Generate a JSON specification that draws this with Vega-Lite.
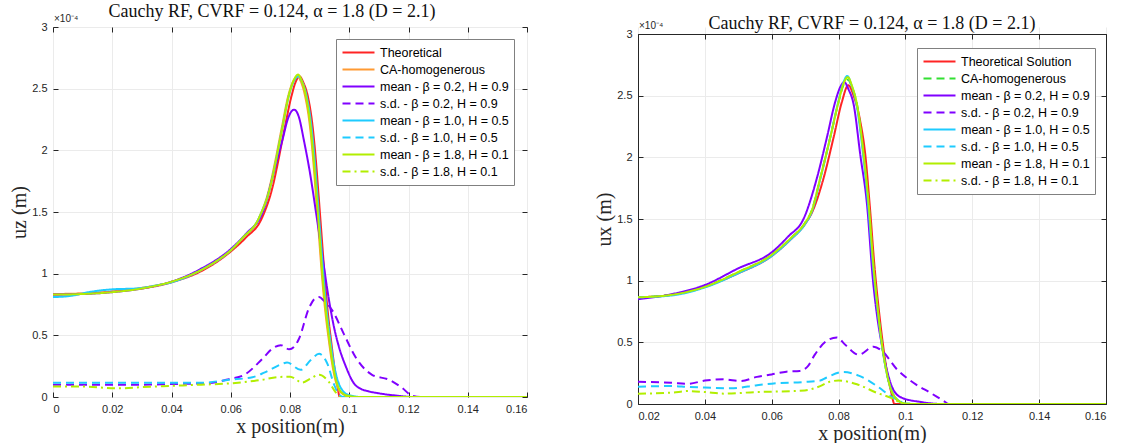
{
  "$schema": "https://vega.github.io/schema/vega-lite/v6.json",
  "background": "white",
  "padding": {"left": 9, "top": 2, "right": 5, "bottom": 0},
  "spacing": 66,
  "config": {
    "font": "Liberation Sans",
    "view": {"stroke": "#262626", "strokeWidth": 1},
    "axis": {"labelFont": "Liberation Sans", "labelFontSize": 11, "labelColor": "#262626", "titleFont": "Liberation Serif", "titleFontSize": 20, "titleFontWeight": "normal", "titleColor": "#262626", "gridColor": "#ebebeb", "gridWidth": 1, "domain": false, "domainColor": "#262626", "tickColor": "#262626", "tickSize": -5, "tickWidth": 1, "labelPadding": 11, "titlePadding": 2},
    "title": {"font": "Liberation Serif", "fontSize": 18, "fontWeight": "normal", "color": "#111111"},
    "legend": {"title": null, "fillColor": "white", "strokeColor": "#808080", "padding": 5, "symbolType": "stroke", "symbolSize": 1024, "symbolStrokeWidth": 2.2, "labelFont": "Liberation Sans", "labelFontSize": 12.5, "labelColor": "#000000", "clipHeight": 17, "rowPadding": 0, "labelOffset": 4, "labelLimit": 300}
  },
  "datasets": {
    "left": [
      {"s":"T","x":0,"y":0.83},{"s":"T","x":0.02,"y":0.855},{"s":"T","x":0.04,"y":0.93},{"s":"T","x":0.05,"y":1.02},{"s":"T","x":0.06,"y":1.18},{"s":"T","x":0.065,"y":1.29},{"s":"T","x":0.0705,"y":1.45},{"s":"T","x":0.0743,"y":1.72},{"s":"T","x":0.076,"y":1.91},{"s":"T","x":0.0782,"y":2.18},{"s":"T","x":0.0805,"y":2.44},{"s":"T","x":0.082,"y":2.56},{"s":"T","x":0.0832,"y":2.6},{"s":"T","x":0.0845,"y":2.55},{"s":"T","x":0.086,"y":2.44},{"s":"T","x":0.0877,"y":2.18},{"s":"T","x":0.0887,"y":1.93},{"s":"T","x":0.0897,"y":1.62},{"s":"T","x":0.0907,"y":1.3},{"s":"T","x":0.0917,"y":0.98},{"s":"T","x":0.0927,"y":0.7},{"s":"T","x":0.0939,"y":0.45},{"s":"T","x":0.095,"y":0.24},{"s":"T","x":0.096,"y":0.09},{"s":"T","x":0.0968,"y":0},{"s":"T","x":0.16,"y":0},
      {"s":"CA","x":0,"y":0.835},{"s":"CA","x":0.01,"y":0.84},{"s":"CA","x":0.02,"y":0.855},{"s":"CA","x":0.03,"y":0.885},{"s":"CA","x":0.04,"y":0.935},{"s":"CA","x":0.05,"y":1.03},{"s":"CA","x":0.055,"y":1.1},{"s":"CA","x":0.06,"y":1.19},{"s":"CA","x":0.064,"y":1.29},{"s":"CA","x":0.0695,"y":1.45},{"s":"CA","x":0.0733,"y":1.72},{"s":"CA","x":0.075,"y":1.91},{"s":"CA","x":0.0772,"y":2.18},{"s":"CA","x":0.0795,"y":2.45},{"s":"CA","x":0.0813,"y":2.57},{"s":"CA","x":0.0825,"y":2.6},{"s":"CA","x":0.0838,"y":2.55},{"s":"CA","x":0.0851,"y":2.44},{"s":"CA","x":0.0868,"y":2.18},{"s":"CA","x":0.0878,"y":1.93},{"s":"CA","x":0.0888,"y":1.62},{"s":"CA","x":0.0898,"y":1.3},{"s":"CA","x":0.0908,"y":0.98},{"s":"CA","x":0.0918,"y":0.72},{"s":"CA","x":0.093,"y":0.48},{"s":"CA","x":0.0943,"y":0.26},{"s":"CA","x":0.0953,"y":0.14},{"s":"CA","x":0.0963,"y":0.07},{"s":"CA","x":0.0978,"y":0.025},{"s":"CA","x":0.1,"y":0.006},{"s":"CA","x":0.103,"y":0},{"s":"CA","x":0.16,"y":0},
      {"s":"m1","x":0,"y":0.83},{"s":"m1","x":0.01,"y":0.835},{"s":"m1","x":0.02,"y":0.85},{"s":"m1","x":0.03,"y":0.88},{"s":"m1","x":0.04,"y":0.935},{"s":"m1","x":0.05,"y":1.04},{"s":"m1","x":0.06,"y":1.2},{"s":"m1","x":0.065,"y":1.32},{"s":"m1","x":0.071,"y":1.51},{"s":"m1","x":0.0741,"y":1.78},{"s":"m1","x":0.0774,"y":2.08},{"s":"m1","x":0.0795,"y":2.27},{"s":"m1","x":0.0814,"y":2.33},{"s":"m1","x":0.083,"y":2.27},{"s":"m1","x":0.0847,"y":2.08},{"s":"m1","x":0.087,"y":1.78},{"s":"m1","x":0.0887,"y":1.51},{"s":"m1","x":0.0909,"y":1.15},{"s":"m1","x":0.0932,"y":0.78},{"s":"m1","x":0.095,"y":0.55},{"s":"m1","x":0.0966,"y":0.4},{"s":"m1","x":0.0988,"y":0.25},{"s":"m1","x":0.1016,"y":0.11},{"s":"m1","x":0.104,"y":0.065},{"s":"m1","x":0.1067,"y":0.045},{"s":"m1","x":0.11,"y":0.03},{"s":"m1","x":0.1156,"y":0.012},{"s":"m1","x":0.1223,"y":0},{"s":"m1","x":0.16,"y":0},
      {"s":"s1","x":0,"y":0.1},{"s":"s1","x":0.01,"y":0.1},{"s":"s1","x":0.02,"y":0.1},{"s":"s1","x":0.03,"y":0.1},{"s":"s1","x":0.04,"y":0.105},{"s":"s1","x":0.05,"y":0.11},{"s":"s1","x":0.055,"y":0.12},{"s":"s1","x":0.0594,"y":0.145},{"s":"s1","x":0.0646,"y":0.18},{"s":"s1","x":0.0707,"y":0.31},{"s":"s1","x":0.0745,"y":0.4},{"s":"s1","x":0.0769,"y":0.42},{"s":"s1","x":0.0797,"y":0.387},{"s":"s1","x":0.0815,"y":0.41},{"s":"s1","x":0.083,"y":0.47},{"s":"s1","x":0.0864,"y":0.72},{"s":"s1","x":0.0885,"y":0.8},{"s":"s1","x":0.0898,"y":0.81},{"s":"s1","x":0.0915,"y":0.78},{"s":"s1","x":0.0943,"y":0.7},{"s":"s1","x":0.0982,"y":0.51},{"s":"s1","x":0.1022,"y":0.32},{"s":"s1","x":0.1077,"y":0.18},{"s":"s1","x":0.1134,"y":0.14},{"s":"s1","x":0.1178,"y":0.075},{"s":"s1","x":0.1212,"y":0.01},{"s":"s1","x":0.124,"y":0},{"s":"s1","x":0.16,"y":0},
      {"s":"m2","x":0,"y":0.81},{"s":"m2","x":0.006,"y":0.82},{"s":"m2","x":0.012,"y":0.85},{"s":"m2","x":0.02,"y":0.873},{"s":"m2","x":0.028,"y":0.88},{"s":"m2","x":0.035,"y":0.905},{"s":"m2","x":0.04,"y":0.93},{"s":"m2","x":0.05,"y":1.03},{"s":"m2","x":0.06,"y":1.19},{"s":"m2","x":0.064,"y":1.29},{"s":"m2","x":0.0695,"y":1.45},{"s":"m2","x":0.0735,"y":1.72},{"s":"m2","x":0.0752,"y":1.91},{"s":"m2","x":0.0774,"y":2.18},{"s":"m2","x":0.0797,"y":2.45},{"s":"m2","x":0.0815,"y":2.57},{"s":"m2","x":0.0828,"y":2.6},{"s":"m2","x":0.0842,"y":2.55},{"s":"m2","x":0.0856,"y":2.44},{"s":"m2","x":0.0873,"y":2.18},{"s":"m2","x":0.0883,"y":1.93},{"s":"m2","x":0.0893,"y":1.62},{"s":"m2","x":0.0903,"y":1.3},{"s":"m2","x":0.0913,"y":0.98},{"s":"m2","x":0.0923,"y":0.72},{"s":"m2","x":0.0935,"y":0.48},{"s":"m2","x":0.0948,"y":0.27},{"s":"m2","x":0.0958,"y":0.16},{"s":"m2","x":0.0968,"y":0.09},{"s":"m2","x":0.098,"y":0.045},{"s":"m2","x":0.1,"y":0.015},{"s":"m2","x":0.104,"y":0},{"s":"m2","x":0.16,"y":0},
      {"s":"s2","x":0,"y":0.115},{"s":"s2","x":0.02,"y":0.115},{"s":"s2","x":0.04,"y":0.115},{"s":"s2","x":0.05,"y":0.115},{"s":"s2","x":0.0594,"y":0.14},{"s":"s2","x":0.0673,"y":0.16},{"s":"s2","x":0.0715,"y":0.2},{"s":"s2","x":0.0775,"y":0.27},{"s":"s2","x":0.079,"y":0.28},{"s":"s2","x":0.0836,"y":0.22},{"s":"s2","x":0.087,"y":0.3},{"s":"s2","x":0.0898,"y":0.35},{"s":"s2","x":0.0926,"y":0.27},{"s":"s2","x":0.0949,"y":0.1},{"s":"s2","x":0.0965,"y":0.02},{"s":"s2","x":0.098,"y":0},{"s":"s2","x":0.16,"y":0},
      {"s":"m3","x":0,"y":0.83},{"s":"m3","x":0.01,"y":0.835},{"s":"m3","x":0.02,"y":0.85},{"s":"m3","x":0.03,"y":0.88},{"s":"m3","x":0.04,"y":0.935},{"s":"m3","x":0.05,"y":1.03},{"s":"m3","x":0.055,"y":1.1},{"s":"m3","x":0.06,"y":1.19},{"s":"m3","x":0.064,"y":1.29},{"s":"m3","x":0.0695,"y":1.45},{"s":"m3","x":0.0735,"y":1.72},{"s":"m3","x":0.0752,"y":1.91},{"s":"m3","x":0.0774,"y":2.18},{"s":"m3","x":0.0797,"y":2.455},{"s":"m3","x":0.0815,"y":2.58},{"s":"m3","x":0.0827,"y":2.615},{"s":"m3","x":0.084,"y":2.56},{"s":"m3","x":0.0853,"y":2.45},{"s":"m3","x":0.087,"y":2.18},{"s":"m3","x":0.088,"y":1.93},{"s":"m3","x":0.089,"y":1.62},{"s":"m3","x":0.09,"y":1.3},{"s":"m3","x":0.091,"y":0.98},{"s":"m3","x":0.092,"y":0.72},{"s":"m3","x":0.0932,"y":0.48},{"s":"m3","x":0.0945,"y":0.26},{"s":"m3","x":0.0955,"y":0.14},{"s":"m3","x":0.0965,"y":0.07},{"s":"m3","x":0.098,"y":0.025},{"s":"m3","x":0.1,"y":0.008},{"s":"m3","x":0.103,"y":0},{"s":"m3","x":0.16,"y":0},
      {"s":"s3","x":0,"y":0.085},{"s":"s3","x":0.01,"y":0.085},{"s":"s3","x":0.022,"y":0.07},{"s":"s3","x":0.03,"y":0.08},{"s":"s3","x":0.04,"y":0.09},{"s":"s3","x":0.05,"y":0.1},{"s":"s3","x":0.0594,"y":0.11},{"s":"s3","x":0.0707,"y":0.14},{"s":"s3","x":0.076,"y":0.162},{"s":"s3","x":0.08,"y":0.165},{"s":"s3","x":0.0842,"y":0.117},{"s":"s3","x":0.087,"y":0.15},{"s":"s3","x":0.0898,"y":0.18},{"s":"s3","x":0.0932,"y":0.12},{"s":"s3","x":0.0955,"y":0.035},{"s":"s3","x":0.097,"y":0},{"s":"s3","x":0.16,"y":0}
    ],
    "right": [
      {"s":"T","x":0.02,"y":0.865},{"s":"T","x":0.03,"y":0.885},{"s":"T","x":0.04,"y":0.95},{"s":"T","x":0.05,"y":1.06},{"s":"T","x":0.06,"y":1.2},{"s":"T","x":0.0655,"y":1.33},{"s":"T","x":0.07,"y":1.46},{"s":"T","x":0.072,"y":1.55},{"s":"T","x":0.0755,"y":1.83},{"s":"T","x":0.0785,"y":2.16},{"s":"T","x":0.081,"y":2.45},{"s":"T","x":0.0829,"y":2.585},{"s":"T","x":0.0845,"y":2.5},{"s":"T","x":0.0865,"y":2.29},{"s":"T","x":0.088,"y":2.02},{"s":"T","x":0.0893,"y":1.62},{"s":"T","x":0.0908,"y":1.1},{"s":"T","x":0.0921,"y":0.75},{"s":"T","x":0.0932,"y":0.5},{"s":"T","x":0.0946,"y":0.24},{"s":"T","x":0.0958,"y":0.09},{"s":"T","x":0.0967,"y":0},{"s":"T","x":0.16,"y":0},
      {"s":"CA","x":0.02,"y":0.865},{"s":"CA","x":0.03,"y":0.885},{"s":"CA","x":0.04,"y":0.95},{"s":"CA","x":0.05,"y":1.07},{"s":"CA","x":0.06,"y":1.21},{"s":"CA","x":0.0655,"y":1.34},{"s":"CA","x":0.07,"y":1.47},{"s":"CA","x":0.072,"y":1.57},{"s":"CA","x":0.0745,"y":1.83},{"s":"CA","x":0.0775,"y":2.16},{"s":"CA","x":0.08,"y":2.45},{"s":"CA","x":0.0815,"y":2.59},{"s":"CA","x":0.0828,"y":2.63},{"s":"CA","x":0.084,"y":2.57},{"s":"CA","x":0.0855,"y":2.43},{"s":"CA","x":0.0875,"y":2.02},{"s":"CA","x":0.089,"y":1.62},{"s":"CA","x":0.0905,"y":1.1},{"s":"CA","x":0.0918,"y":0.75},{"s":"CA","x":0.0929,"y":0.5},{"s":"CA","x":0.0945,"y":0.24},{"s":"CA","x":0.0958,"y":0.11},{"s":"CA","x":0.097,"y":0.05},{"s":"CA","x":0.0985,"y":0.015},{"s":"CA","x":0.1,"y":0.004},{"s":"CA","x":0.103,"y":0},{"s":"CA","x":0.16,"y":0},
      {"s":"m1","x":0.02,"y":0.85},{"s":"m1","x":0.03,"y":0.89},{"s":"m1","x":0.04,"y":0.965},{"s":"m1","x":0.05,"y":1.1},{"s":"m1","x":0.06,"y":1.23},{"s":"m1","x":0.065,"y":1.36},{"s":"m1","x":0.0695,"y":1.5},{"s":"m1","x":0.0735,"y":1.83},{"s":"m1","x":0.0765,"y":2.16},{"s":"m1","x":0.079,"y":2.45},{"s":"m1","x":0.0805,"y":2.57},{"s":"m1","x":0.0817,"y":2.61},{"s":"m1","x":0.083,"y":2.55},{"s":"m1","x":0.0845,"y":2.43},{"s":"m1","x":0.0865,"y":2.02},{"s":"m1","x":0.0885,"y":1.62},{"s":"m1","x":0.0903,"y":1.0},{"s":"m1","x":0.0916,"y":0.7},{"s":"m1","x":0.0928,"y":0.5},{"s":"m1","x":0.0945,"y":0.27},{"s":"m1","x":0.0965,"y":0.11},{"s":"m1","x":0.099,"y":0.05},{"s":"m1","x":0.1045,"y":0.017},{"s":"m1","x":0.111,"y":0},{"s":"m1","x":0.16,"y":0},
      {"s":"s1","x":0.02,"y":0.18},{"s":"s1","x":0.03,"y":0.172},{"s":"s1","x":0.035,"y":0.164},{"s":"s1","x":0.04,"y":0.19},{"s":"s1","x":0.0457,"y":0.2},{"s":"s1","x":0.0507,"y":0.186},{"s":"s1","x":0.0556,"y":0.22},{"s":"s1","x":0.06,"y":0.24},{"s":"s1","x":0.0644,"y":0.262},{"s":"s1","x":0.0684,"y":0.268},{"s":"s1","x":0.0709,"y":0.31},{"s":"s1","x":0.0729,"y":0.4},{"s":"s1","x":0.0763,"y":0.51},{"s":"s1","x":0.0795,"y":0.54},{"s":"s1","x":0.082,"y":0.48},{"s":"s1","x":0.086,"y":0.4},{"s":"s1","x":0.0905,"y":0.465},{"s":"s1","x":0.093,"y":0.43},{"s":"s1","x":0.0975,"y":0.28},{"s":"s1","x":0.1025,"y":0.17},{"s":"s1","x":0.1075,"y":0.09},{"s":"s1","x":0.1115,"y":0.024},{"s":"s1","x":0.113,"y":0},{"s":"s1","x":0.16,"y":0},
      {"s":"m2","x":0.02,"y":0.865},{"s":"m2","x":0.03,"y":0.88},{"s":"m2","x":0.04,"y":0.945},{"s":"m2","x":0.05,"y":1.06},{"s":"m2","x":0.06,"y":1.2},{"s":"m2","x":0.0655,"y":1.33},{"s":"m2","x":0.07,"y":1.46},{"s":"m2","x":0.072,"y":1.56},{"s":"m2","x":0.0745,"y":1.82},{"s":"m2","x":0.0775,"y":2.16},{"s":"m2","x":0.08,"y":2.46},{"s":"m2","x":0.0815,"y":2.61},{"s":"m2","x":0.0826,"y":2.66},{"s":"m2","x":0.0838,"y":2.59},{"s":"m2","x":0.0853,"y":2.44},{"s":"m2","x":0.0873,"y":2.03},{"s":"m2","x":0.0888,"y":1.63},{"s":"m2","x":0.0903,"y":1.12},{"s":"m2","x":0.0917,"y":0.76},{"s":"m2","x":0.0928,"y":0.51},{"s":"m2","x":0.0944,"y":0.25},{"s":"m2","x":0.0957,"y":0.12},{"s":"m2","x":0.097,"y":0.05},{"s":"m2","x":0.0985,"y":0.015},{"s":"m2","x":0.1,"y":0.004},{"s":"m2","x":0.103,"y":0},{"s":"m2","x":0.16,"y":0},
      {"s":"s2","x":0.02,"y":0.14},{"s":"s2","x":0.03,"y":0.146},{"s":"s2","x":0.035,"y":0.138},{"s":"s2","x":0.04,"y":0.133},{"s":"s2","x":0.0477,"y":0.127},{"s":"s2","x":0.0556,"y":0.152},{"s":"s2","x":0.06,"y":0.165},{"s":"s2","x":0.0695,"y":0.178},{"s":"s2","x":0.0745,"y":0.19},{"s":"s2","x":0.0763,"y":0.213},{"s":"s2","x":0.0815,"y":0.26},{"s":"s2","x":0.086,"y":0.23},{"s":"s2","x":0.0915,"y":0.145},{"s":"s2","x":0.0955,"y":0.065},{"s":"s2","x":0.0985,"y":0.02},{"s":"s2","x":0.1,"y":0},{"s":"s2","x":0.16,"y":0},
      {"s":"m3","x":0.02,"y":0.865},{"s":"m3","x":0.03,"y":0.885},{"s":"m3","x":0.04,"y":0.95},{"s":"m3","x":0.05,"y":1.07},{"s":"m3","x":0.06,"y":1.21},{"s":"m3","x":0.0655,"y":1.34},{"s":"m3","x":0.07,"y":1.47},{"s":"m3","x":0.072,"y":1.57},{"s":"m3","x":0.0745,"y":1.83},{"s":"m3","x":0.0775,"y":2.16},{"s":"m3","x":0.08,"y":2.45},{"s":"m3","x":0.0815,"y":2.6},{"s":"m3","x":0.0828,"y":2.65},{"s":"m3","x":0.084,"y":2.58},{"s":"m3","x":0.0855,"y":2.43},{"s":"m3","x":0.0875,"y":2.02},{"s":"m3","x":0.089,"y":1.62},{"s":"m3","x":0.0905,"y":1.1},{"s":"m3","x":0.0918,"y":0.75},{"s":"m3","x":0.0929,"y":0.5},{"s":"m3","x":0.0945,"y":0.24},{"s":"m3","x":0.0958,"y":0.11},{"s":"m3","x":0.097,"y":0.05},{"s":"m3","x":0.0985,"y":0.015},{"s":"m3","x":0.1,"y":0.004},{"s":"m3","x":0.103,"y":0},{"s":"m3","x":0.16,"y":0},
      {"s":"s3","x":0.02,"y":0.084},{"s":"s3","x":0.03,"y":0.092},{"s":"s3","x":0.035,"y":0.105},{"s":"s3","x":0.04,"y":0.097},{"s":"s3","x":0.0457,"y":0.084},{"s":"s3","x":0.0556,"y":0.097},{"s":"s3","x":0.06,"y":0.1},{"s":"s3","x":0.0699,"y":0.11},{"s":"s3","x":0.0745,"y":0.145},{"s":"s3","x":0.0773,"y":0.18},{"s":"s3","x":0.08,"y":0.19},{"s":"s3","x":0.0855,"y":0.16},{"s":"s3","x":0.0915,"y":0.09},{"s":"s3","x":0.0965,"y":0.04},{"s":"s3","x":0.0985,"y":0.01},{"s":"s3","x":0.1,"y":0},{"s":"s3","x":0.16,"y":0}
    ]
  },
  "resolve": {"scale": {"color": "independent", "strokeDash": "independent"}, "legend": {"color": "independent", "strokeDash": "independent"}},
  "hconcat": [
    {
      "width": 474, "height": 370,
      "title": {"text": "Cauchy RF, CVRF = 0.124, α = 1.8 (D = 2.1)", "dx": -18, "offset": -7},
      "resolve": {"axis": {"x": "independent", "y": "independent"}},
      "layer": [
        {
          "data": {"name": "left"},
          "mark": {"type": "line", "strokeWidth": 2, "clip": true, "interpolate": "monotone"},
          "encoding": {
            "x": {"field": "x", "type": "quantitative", "scale": {"domain": [0, 0.16], "nice": false}, "axis": {"values": [0, 0.02, 0.04, 0.06, 0.08, 0.1, 0.12, 0.14, 0.16], "format": "~g", "title": "x position(m)"}},
            "y": {"field": "y", "type": "quantitative", "scale": {"domain": [0, 3], "nice": false}, "axis": {"values": [0, 0.5, 1, 1.5, 2, 2.5, 3], "format": "~g", "title": "uz (m)"}},
            "color": {"field": "s", "type": "nominal", "sort": null,
              "scale": {"domain": ["T", "CA", "m1", "s1", "m2", "s2", "m3", "s3"], "range": ["#ff2424", "#ff9a33", "#8000ff", "#8000ff", "#1ecbff", "#1ecbff", "#b2ee00", "#b2ee00"]},
              "legend": {"orient": "none", "legendX": 283, "legendY": 12, "labelExpr": "datum.value=='T'?'Theoretical':datum.value=='CA'?'CA-homogenerous':datum.value=='m1'?'mean - β = 0.2, H = 0.9':datum.value=='s1'?'s.d. - β = 0.2, H = 0.9':datum.value=='m2'?'mean - β = 1.0, H = 0.5':datum.value=='s2'?'s.d. - β = 1.0, H = 0.5':datum.value=='m3'?'mean - β = 1.8, H = 0.1':'s.d. - β = 1.8, H = 0.1'"}},
            "strokeDash": {"field": "s", "type": "nominal", "sort": null,
              "scale": {"domain": ["T", "CA", "m1", "s1", "m2", "s2", "m3", "s3"], "range": [[1, 0], [1, 0], [1, 0], [8, 5], [1, 0], [8, 5], [1, 0], [8, 4, 2, 4]]},
              "legend": {"orient": "none", "legendX": 283, "legendY": 12, "labelExpr": "datum.value=='T'?'Theoretical':datum.value=='CA'?'CA-homogenerous':datum.value=='m1'?'mean - β = 0.2, H = 0.9':datum.value=='s1'?'s.d. - β = 0.2, H = 0.9':datum.value=='m2'?'mean - β = 1.0, H = 0.5':datum.value=='s2'?'s.d. - β = 1.0, H = 0.5':datum.value=='m3'?'mean - β = 1.8, H = 0.1':'s.d. - β = 1.8, H = 0.1'"}}
          }
        },
        {
          "data": {"values": [{}]},
          "mark": {"type": "text", "text": "×10⁻⁴", "align": "left", "baseline": "bottom", "dx": 1, "dy": -3, "fontSize": 10, "font": "Liberation Sans", "color": "#262626"},
          "encoding": {
            "x": {"datum": 0, "type": "quantitative", "axis": {"orient": "top", "labels": false, "title": null, "grid": false, "labelPadding": 0, "minExtent": 0, "maxExtent": 0, "values": [0, 0.02, 0.04, 0.06, 0.08, 0.1, 0.12, 0.14, 0.16]}},
            "y": {"datum": 3, "type": "quantitative", "axis": {"orient": "right", "labels": false, "title": null, "grid": false, "labelPadding": 0, "minExtent": 0, "maxExtent": 0, "values": [0, 0.5, 1, 1.5, 2, 2.5, 3]}}
          }
        }
      ]
    },
    {
      "width": 468, "height": 377,
      "view": {"stroke": null},
      "title": {"text": "Cauchy RF, CVRF = 0.124, α = 1.8 (D = 2.1)", "offset": -12},
      "resolve": {"axis": {"x": "independent", "y": "independent"}},
      "layer": [
        {
          "data": {"name": "right"},
          "mark": {"type": "line", "strokeWidth": 2, "clip": true, "interpolate": "monotone"},
          "encoding": {
            "x": {"field": "x", "type": "quantitative", "scale": {"domain": [0.02, 0.16], "nice": false}, "axis": {"domain": true, "values": [0.02, 0.04, 0.06, 0.08, 0.1, 0.12, 0.14, 0.16], "format": "~g", "title": "x position(m)"}},
            "y": {"field": "y", "type": "quantitative", "scale": {"domain": [0, 3], "nice": false, "range": [377, 7]}, "axis": {"domain": true, "values": [0, 0.5, 1, 1.5, 2, 2.5, 3], "format": "~g", "title": "ux (m)"}},
            "color": {"field": "s", "type": "nominal", "sort": null,
              "scale": {"domain": ["T", "CA", "m1", "s1", "m2", "s2", "m3", "s3"], "range": ["#ff2424", "#33e033", "#8000ff", "#8000ff", "#1ecbff", "#1ecbff", "#b2ee00", "#b2ee00"]},
              "legend": {"orient": "none", "legendX": 279, "legendY": 21, "labelExpr": "datum.value=='T'?'Theoretical Solution':datum.value=='CA'?'CA-homogenerous':datum.value=='m1'?'mean - β = 0.2, H = 0.9':datum.value=='s1'?'s.d. - β = 0.2, H = 0.9':datum.value=='m2'?'mean - β = 1.0, H = 0.5':datum.value=='s2'?'s.d. - β = 1.0, H = 0.5':datum.value=='m3'?'mean - β = 1.8, H = 0.1':'s.d. - β = 1.8, H = 0.1'"}},
            "strokeDash": {"field": "s", "type": "nominal", "sort": null,
              "scale": {"domain": ["T", "CA", "m1", "s1", "m2", "s2", "m3", "s3"], "range": [[1, 0], [8, 5], [1, 0], [8, 5], [1, 0], [8, 5], [1, 0], [8, 4, 2, 4]]},
              "legend": {"orient": "none", "legendX": 279, "legendY": 21, "labelExpr": "datum.value=='T'?'Theoretical Solution':datum.value=='CA'?'CA-homogenerous':datum.value=='m1'?'mean - β = 0.2, H = 0.9':datum.value=='s1'?'s.d. - β = 0.2, H = 0.9':datum.value=='m2'?'mean - β = 1.0, H = 0.5':datum.value=='s2'?'s.d. - β = 1.0, H = 0.5':datum.value=='m3'?'mean - β = 1.8, H = 0.1':'s.d. - β = 1.8, H = 0.1'"}}
          }
        },
        {
          "data": {"values": [{}]},
          "mark": {"type": "text", "text": "×10⁻⁴", "align": "left", "baseline": "bottom", "dx": 1, "dy": -3, "fontSize": 10, "font": "Liberation Sans", "color": "#262626"},
          "encoding": {
            "x": {"datum": 0.02, "type": "quantitative", "axis": {"orient": "top", "offset": -7, "domain": true, "labels": false, "title": null, "grid": false, "labelPadding": 0, "minExtent": 0, "maxExtent": 0, "values": [0.02, 0.04, 0.06, 0.08, 0.1, 0.12, 0.14, 0.16]}},
            "y": {"datum": 3, "type": "quantitative", "axis": {"orient": "right", "domain": true, "labels": false, "title": null, "grid": false, "labelPadding": 0, "minExtent": 0, "maxExtent": 0, "values": [0, 0.5, 1, 1.5, 2, 2.5, 3]}}
          }
        }
      ]
    }
  ]
}
